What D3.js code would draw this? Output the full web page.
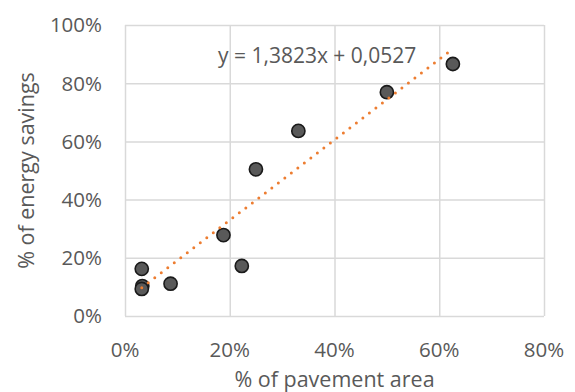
<!DOCTYPE html>
<html>
<head>
<meta charset="utf-8">
<script src="https://cdn.jsdelivr.net/npm/d3@7"></script>
<style>
    body { margin: 0; background: #fff; }
    svg { display: block; font-family: "Open Sans", sans-serif; }
    .grid line { stroke: #d9d9d9; stroke-width: 1.5; }
    .grid path { display: none; }
    .tick-label { fill: #595959; font-size: 20.5px; }
    .title { fill: #595959; font-size: 21.5px; }
    .equation { fill: #595959; font-size: 21px; }
</style>
</head>
<body>
<svg id="chart" width="575" height="392"></svg>
<script>
"use strict";

// pavement area share (x) vs energy savings share (y)
const pavementArea = [0.032, 0.033, 0.032, 0.087, 0.188, 0.223, 0.250, 0.331, 0.500, 0.626];
const energySavings = [0.162, 0.103, 0.093, 0.111, 0.278, 0.172, 0.504, 0.636, 0.769, 0.866];
const xTicks = [0, 0.2, 0.4, 0.6, 0.8];
const yTicks = [0, 0.2, 0.4, 0.6, 0.8, 1.0];
const slope = 1.3823;
const intercept = 0.0527;
const equationLabel = "y = 1,3823x + 0,0527";

const svg = d3.select("#chart");

const plot = { left: 125, right: 544, top: 25, bottom: 316 };

const xScale = d3.scaleLinear().domain([0, 0.8]).range([plot.left, plot.right]);
const yScale = d3.scaleLinear().domain([0, 1]).range([plot.bottom, plot.top]);

const pct = d3.format(".0%");

// gridlines
svg.append("g")
    .attr("class", "grid")
    .attr("transform", `translate(0, ${plot.bottom})`)
    .call(d3.axisBottom(xScale).tickValues(xTicks).tickSize(-(plot.bottom - plot.top)).tickFormat(""));

svg.append("g")
    .attr("class", "grid")
    .attr("transform", `translate(${plot.left}, 0)`)
    .call(d3.axisLeft(yScale).tickValues(yTicks).tickSize(-(plot.right - plot.left)).tickFormat(""));

// tick labels
svg.append("g").selectAll("text")
    .data(xTicks).enter().append("text")
    .attr("class", "tick-label")
    .attr("x", (d) => xScale(d))
    .attr("y", 356.5)
    .attr("text-anchor", "middle")
    .text(pct);

svg.append("g").selectAll("text")
    .data(yTicks).enter().append("text")
    .attr("class", "tick-label")
    .attr("x", 102)
    .attr("y", (d) => yScale(d) + 7.3)
    .attr("text-anchor", "end")
    .text(pct);

// axis titles
svg.append("text")
    .attr("class", "title")
    .attr("x", (plot.left + plot.right) / 2)
    .attr("y", 387)
    .attr("text-anchor", "middle")
    .text("% of pavement area");

svg.append("text")
    .attr("class", "title")
    .attr("transform", `translate(34, ${(plot.top + plot.bottom) / 2}) rotate(-90)`)
    .attr("text-anchor", "middle")
    .text("% of energy savings");

// points
const points = pavementArea.map((x, i) => ({ x: x, y: energySavings[i] }));

svg.append("g").selectAll("circle")
    .data(points).enter().append("circle")
    .attr("cx", (d) => xScale(d.x))
    .attr("cy", (d) => yScale(d.y))
    .attr("r", 6.6)
    .attr("fill", "#595959")
    .attr("stroke", "#1a1a1a")
    .attr("stroke-width", 1.6);

// linear trendline
const xExtent = d3.extent(pavementArea);
const trend = xExtent.map((x) => ({ x: x, y: slope * x + intercept }));

svg.append("path")
    .datum(trend)
    .attr("fill", "none")
    .attr("stroke", "#ed7d31")
    .attr("stroke-width", 3)
    .attr("stroke-linecap", "round")
    .attr("stroke-dasharray", "0 8.2")
    .attr("d", d3.line().x((d) => xScale(d.x)).y((d) => yScale(d.y)));

svg.append("text")
    .attr("class", "equation")
    .attr("x", 218)
    .attr("y", 63)
    .text(equationLabel);
</script>
</body>
</html>
